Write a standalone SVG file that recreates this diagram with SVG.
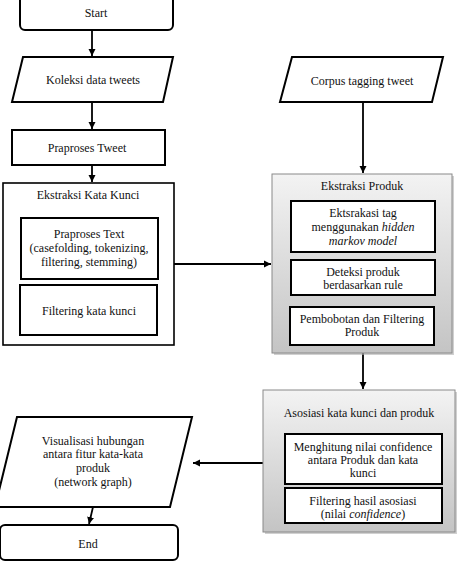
<svg xmlns="http://www.w3.org/2000/svg" width="457" height="561" viewBox="0 0 457 561">
<style>
text{font-family:'Liberation Serif','Times New Roman',serif;font-size:12px;fill:#111;text-anchor:middle}
.b{fill:#fff;stroke:#000;stroke-width:2}
.o{fill:#fff;stroke:#000;stroke-width:1.6}
.g{fill:url(#gr);stroke:#8a8a8a;stroke-width:1}
.sh{fill:#b0b0b0;opacity:0.6}
.c{fill:none;stroke:#000;stroke-width:1.8}
</style>
<defs>
<linearGradient id="gr" x1="0" y1="0" x2="0" y2="1">
<stop offset="0" stop-color="#f3f3f3"/>
<stop offset="1" stop-color="#c4c4c4"/>
</linearGradient>
<marker id="ar" markerWidth="8" markerHeight="8" refX="7" refY="4" orient="auto" markerUnits="userSpaceOnUse">
<path d="M0,0.5 L7,4 L0,7.5 Z" fill="#000"/>
</marker>
</defs>
<g id="connectors">
<line class="c" x1="92" y1="30" x2="92" y2="56" marker-end="url(#ar)"/>
<line class="c" x1="92" y1="102" x2="92" y2="129" marker-end="url(#ar)"/>
<line class="c" x1="92" y1="165" x2="92" y2="182" marker-end="url(#ar)"/>
<line class="c" x1="174" y1="264" x2="271" y2="264" marker-end="url(#ar)"/>
<line class="c" x1="363" y1="102" x2="363" y2="173" marker-end="url(#ar)"/>
<line class="c" x1="363" y1="353" x2="363" y2="389" marker-end="url(#ar)"/>
<line class="c" x1="263" y1="463" x2="193" y2="463" marker-end="url(#ar)"/>
<line class="c" x1="93" y1="507" x2="89" y2="524" marker-end="url(#ar)"/>
</g>
<g id="start">
<rect class="b" x="20" y="-10" width="153" height="40" rx="5"/>
<text x="96" y="17">Start</text>
</g>
<g id="koleksi">
<polygon class="b" points="23,57 173,57 163,102 12,102"/>
<text x="93" y="84">Koleksi data tweets</text>
</g>
<g id="praproses-tweet">
<rect class="b" x="12" y="130" width="153" height="35"/>
<text x="87" y="152">Praproses Tweet</text>
</g>
<g id="ekstraksi-kata-kunci">
<rect class="o" x="3" y="183" width="171" height="162"/>
<text x="88" y="199">Ekstraksi Kata Kunci</text>
<rect class="b" x="21" y="218" width="137" height="61"/>
<text x="89" y="238">Praproses Text</text>
<text x="89" y="252">(casefolding, tokenizing,</text>
<text x="89" y="266">filtering, stemming)</text>
<rect class="b" x="20" y="285" width="137" height="50"/>
<text x="89" y="315">Filtering kata kunci</text>
</g>
<g id="corpus">
<polygon class="b" points="292,57 443,57 432,102 280,102"/>
<text x="362" y="85">Corpus tagging tweet</text>
</g>
<g id="ekstraksi-produk">
<rect class="sh" x="274" y="176" width="180" height="179"/>
<rect class="g" x="272" y="174" width="180" height="179"/>
<text x="362" y="190">Ekstraksi Produk</text>
<rect class="b" x="291" y="201" width="144" height="51"/>
<text x="363" y="217">Ektsrakasi tag</text>
<text x="363" y="231">menggunakan <tspan font-style="italic">hidden</tspan></text>
<text x="363" y="245" font-style="italic">markov model</text>
<rect class="b" x="291" y="260" width="144" height="35"/>
<text x="363" y="276">Deteksi produk</text>
<text x="363" y="289">berdasarkan rule</text>
<rect class="b" x="290" y="307" width="144" height="38"/>
<text x="362" y="323">Pembobotan dan Filtering</text>
<text x="362" y="336">Produk</text>
</g>
<g id="asosiasi">
<rect class="sh" x="265" y="392" width="192" height="142"/>
<rect class="g" x="263" y="390" width="192" height="142"/>
<text x="359" y="417">Asosiasi kata kunci dan produk</text>
<rect class="b" x="285" y="434" width="157" height="50"/>
<text x="363" y="451">Menghitung nilai confidence</text>
<text x="363" y="464">antara Produk dan kata</text>
<text x="363" y="477">kunci</text>
<rect class="b" x="285" y="488" width="157" height="35"/>
<text x="363" y="505">Filtering hasil asosiasi</text>
<text x="363" y="518">(nilai <tspan font-style="italic">confidence</tspan>)</text>
</g>
<g id="visualisasi">
<polygon class="b" points="17,417 192,417 170,507 -5,507"/>
<text x="93" y="445">Visualisasi hubungan</text>
<text x="93" y="458">antara fitur kata-kata</text>
<text x="93" y="472">produk</text>
<text x="93" y="486">(network graph)</text>
</g>
<g id="end">
<rect class="b" x="0" y="525" width="178" height="35" rx="5"/>
<text x="88" y="548">End</text>
</g>
</svg>
